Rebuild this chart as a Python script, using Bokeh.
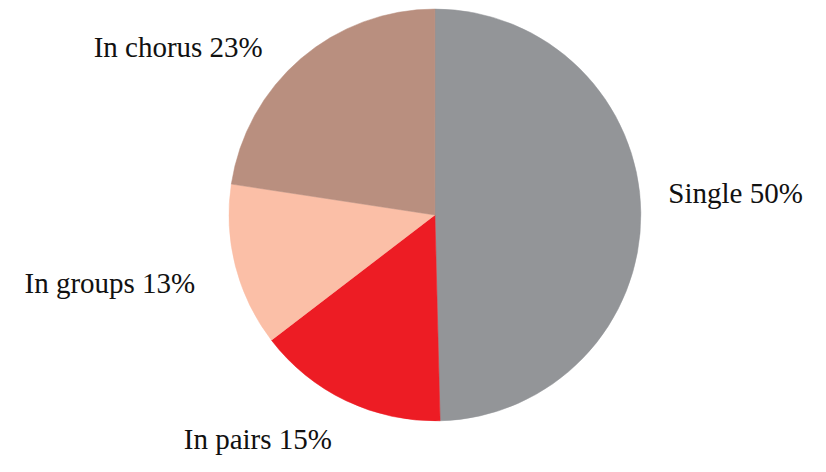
import math
from bokeh.plotting import figure
from bokeh.models import Range1d, ColumnDataSource
from bokeh.core.properties import value
from bokeh.embed import file_html
from bokeh.resources import INLINE

# ---- data ----
categories = ["Single", "In pairs", "In groups", "In chorus"]
shares = [49.6, 15.0, 12.8, 22.6]
colors = ["#939598", "#ED1C24", "#FBBFA7", "#B98F7F"]

# ---- layout / style ----
W, H = 810, 456            # figure size in screen pixels
REF_W, REF_H = 826, 472    # design frame (units)
R = 210
cx, cy = 443, 222          # pie centre within the design frame (from top-left)
label_align = ["left", "right", "right", "right"]
label_nudge = [(27, 20), (-14, -42), (-40, -18), (-38, 14)]  # design units (x right, y up)
font_px = 30 * H / REF_H

p = figure(width=W, height=H, output_backend="svg", toolbar_location=None,
           x_range=Range1d(-cx, REF_W - cx), y_range=Range1d(-(REF_H - cy), cy),
           min_border=0)
p.axis.visible = False
p.grid.visible = False
p.outline_line_color = None
p.background_fill_color = "white"
p.border_fill_color = "white"

total = sum(shares)
starts, ends, mids = [], [], []
cum = 0.0
for s in shares:
    a_hi = math.pi / 2 - 2 * math.pi * cum / total
    cum += s
    a_lo = math.pi / 2 - 2 * math.pi * cum / total
    starts.append(a_lo)
    ends.append(a_hi)
    mids.append((a_lo + a_hi) / 2)

src = ColumnDataSource(dict(start=starts, end=ends, color=colors))
p.wedge(x=0, y=0, radius=R, start_angle="start", end_angle="end",
        direction="anticlock", fill_color="color", line_color="color",
        line_width=0.5, source=src)

labels = [f"{c} {round(s / total * 100)}%" for c, s in zip(categories, shares)]
for lab, m, al, (dx, dy) in zip(labels, mids, label_align, label_nudge):
    p.text(x=[211 * math.cos(m) + dx], y=[211 * math.sin(m) + dy], text=[lab],
           text_font=value("Liberation Serif"), text_font_size=f"{font_px:.1f}px",
           text_align=al, text_baseline="middle", text_color="#111111")

open("out.html", "w").write(file_html(p, INLINE))
